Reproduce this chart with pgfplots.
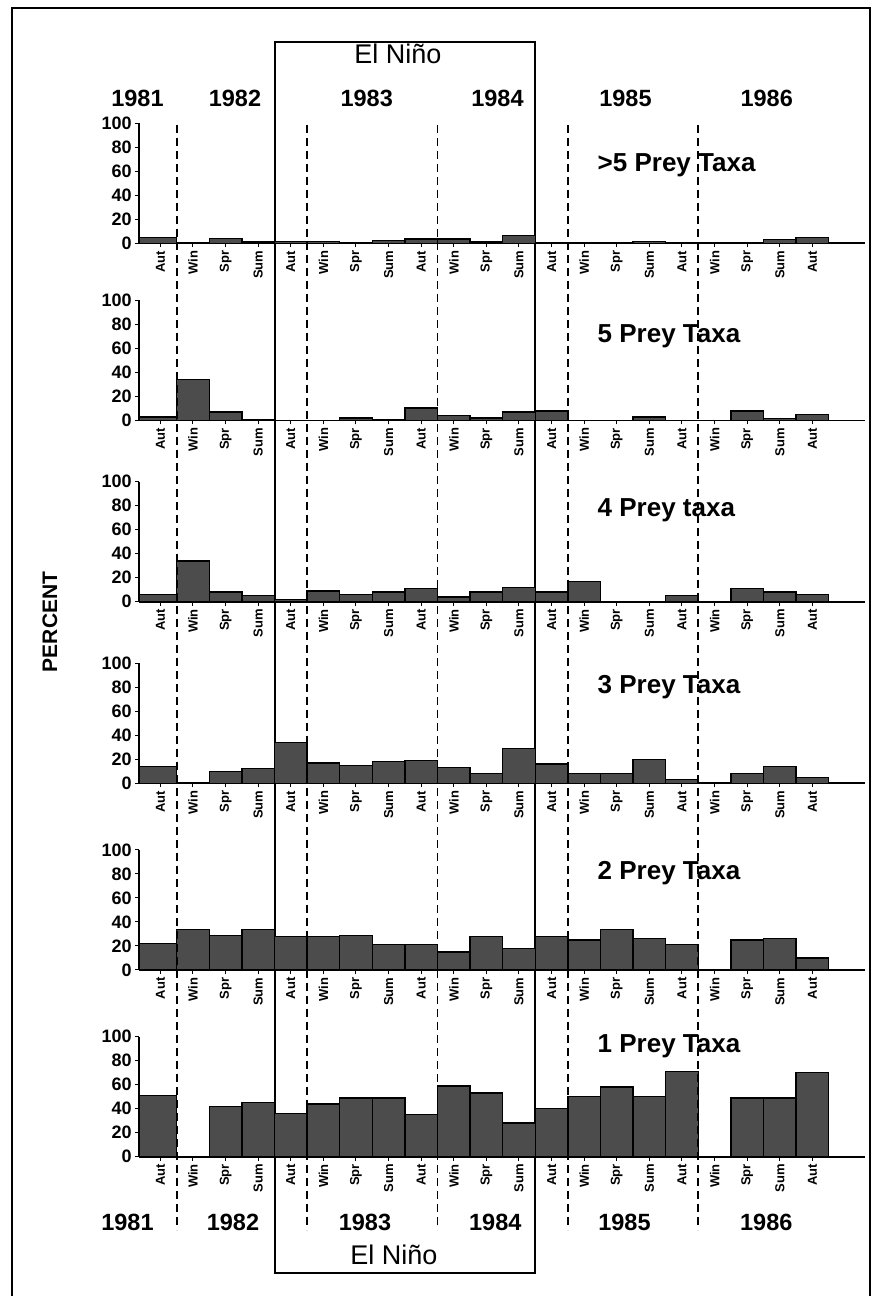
\documentclass[border=0pt]{standalone}
\usepackage{fontspec}
\setmainfont{Liberation Sans}
\usepackage{pgfplots}
\usepackage{pgfplotstable}
\pgfplotsset{compat=1.18}

% boundaries of the season bars (bar i spans x_i .. x_{i+1}); last row closes the interval
\pgfplotstableread{
x      gsix  five  four  three  two  one
-0.65  5     3     6     14     22   51
0.5    0     34    34    0      34   0
1.5    4     7     8     10     29   42
2.5    1     1     5     12.5   34   45
3.5    1.5   0     2     34     28   36
4.5    1.5   0     9     17     28   44
5.5    0     2     6     15     29   49
6.5    2.5   1     8     18     21   49
7.5    3.5   10.5  11    19     21   35
8.5    3.5   4     4     13     15   59
9.5    1     2     8     8      28   53
10.5   6.5   7     12    29     18   28
11.5   0     8     8     16     28   40
12.5   0     0     17    8      25   50
13.5   0     0     0     8      34   58
14.5   1.5   3     0     20     26   50
15.5   0     0     5     3      21   71
16.5   0     0     0     0      0    0
17.5   0     8     11    8      25   49
18.5   3     1.5   8     14     26   49
19.5   5     5     6     5      10   70
20.5   0     0     0     0      0    0
}\preydata

\pgfplotsset{
  panel/.style={
    x=32.6pt, y=1.2pt,
    xmin=-0.65, xmax=21.6, ymin=0, ymax=100,
    axis x line=bottom, axis y line=left,
    axis line style={-, line width=1.8pt},
    xtick={0,...,20},
    xticklabels={Aut,Win,Spr,Sum,Aut,Win,Spr,Sum,Aut,Win,Spr,Sum,Aut,Win,Spr,Sum,Aut,Win,Spr,Sum,Aut},
    ytick={0,20,40,60,80,100},
    tick align=outside,
    major tick length=4pt,
    tick style={line width=1pt, black},
    x tick label style={rotate=90, anchor=east, font=\fontsize{13}{13}\selectfont\bfseries},
    y tick label style={font=\fontsize{18}{18}\selectfont\bfseries},
    /pgf/number format/assume math mode=true,
    anchor=south west,
    clip=false,
  },
  bars/.style={ybar interval, fill=black!70, draw=black, line width=1.3pt},
}

\begin{document}
\begin{tikzpicture}[x=1pt,y=1pt]
\useasboundingbox (0,0) rectangle (875,1296);
% outer frame
\draw[line width=2.5pt] (12,-5) -- (12,1288) -- (870,1288) -- (870,-5);
% El Nino box
\draw[line width=2pt] (274.5,23) rectangle (535.3,1254);

\begin{axis}[panel, at={(139.2pt,1052.7pt)}]
\addplot[bars] table[x=x, y=gsix] {\preydata};
\end{axis}
\begin{axis}[panel, at={(139.2pt,875.5pt)}]
\addplot[bars] table[x=x, y=five] {\preydata};
\end{axis}
\begin{axis}[panel, at={(139.2pt,694.3pt)}]
\addplot[bars] table[x=x, y=four] {\preydata};
\end{axis}
\begin{axis}[panel, at={(139.2pt,512.7pt)}]
\addplot[bars] table[x=x, y=three] {\preydata};
\end{axis}
\begin{axis}[panel, at={(139.2pt,326pt)}]
\addplot[bars] table[x=x, y=two] {\preydata};
\end{axis}
\begin{axis}[panel, at={(139.2pt,139.3pt)}]
\addplot[bars] table[x=x, y=one] {\preydata};
\end{axis}

% year separators
\foreach \xx in {176.7,307.1,437.5,567.9,698.3}
  \draw[line width=1.8pt, dash pattern=on 8pt off 5pt] (\xx,1171) -- (\xx,66);

% panel titles
\begin{scope}[every node/.style={anchor=base west, inner sep=0pt, font=\fontsize{26}{26}\selectfont\bfseries}]
\node at (597.5,1124) {>5 Prey Taxa};
\node at (597.5,953.3) {5 Prey Taxa};
\node at (597.5,779.3) {4 Prey taxa};
\node at (597.5,602.7) {3 Prey Taxa};
\node at (597.5,416) {2 Prey Taxa};
\node at (597.5,243) {1 Prey Taxa};
\end{scope}

% years
\begin{scope}[every node/.style={anchor=base, inner sep=0pt, font=\fontsize{23.5}{23.5}\selectfont\bfseries}]
\node at (137.5,1189) {1981};
\node at (235,1189) {1982};
\node at (366.7,1189) {1983};
\node at (497.5,1189) {1984};
\node at (625.5,1189) {1985};
\node at (766.7,1189) {1986};
\node at (127.5,65) {1981};
\node at (233,65) {1982};
\node at (365,65) {1983};
\node at (495.3,65) {1984};
\node at (624.5,65) {1985};
\node at (766.3,65) {1986};
\end{scope}

% El Nino
\node[anchor=base, inner sep=0pt, font=\fontsize{27}{27}\selectfont] at (398,1232) {El Niño};
\node[anchor=base, inner sep=0pt, font=\fontsize{27}{27}\selectfont] at (394,31) {El Niño};

% y axis title
\node[rotate=90, inner sep=0pt, font=\fontsize{21}{21}\selectfont\bfseries] at (50,674) {PERCENT};
\end{tikzpicture}
\end{document}
